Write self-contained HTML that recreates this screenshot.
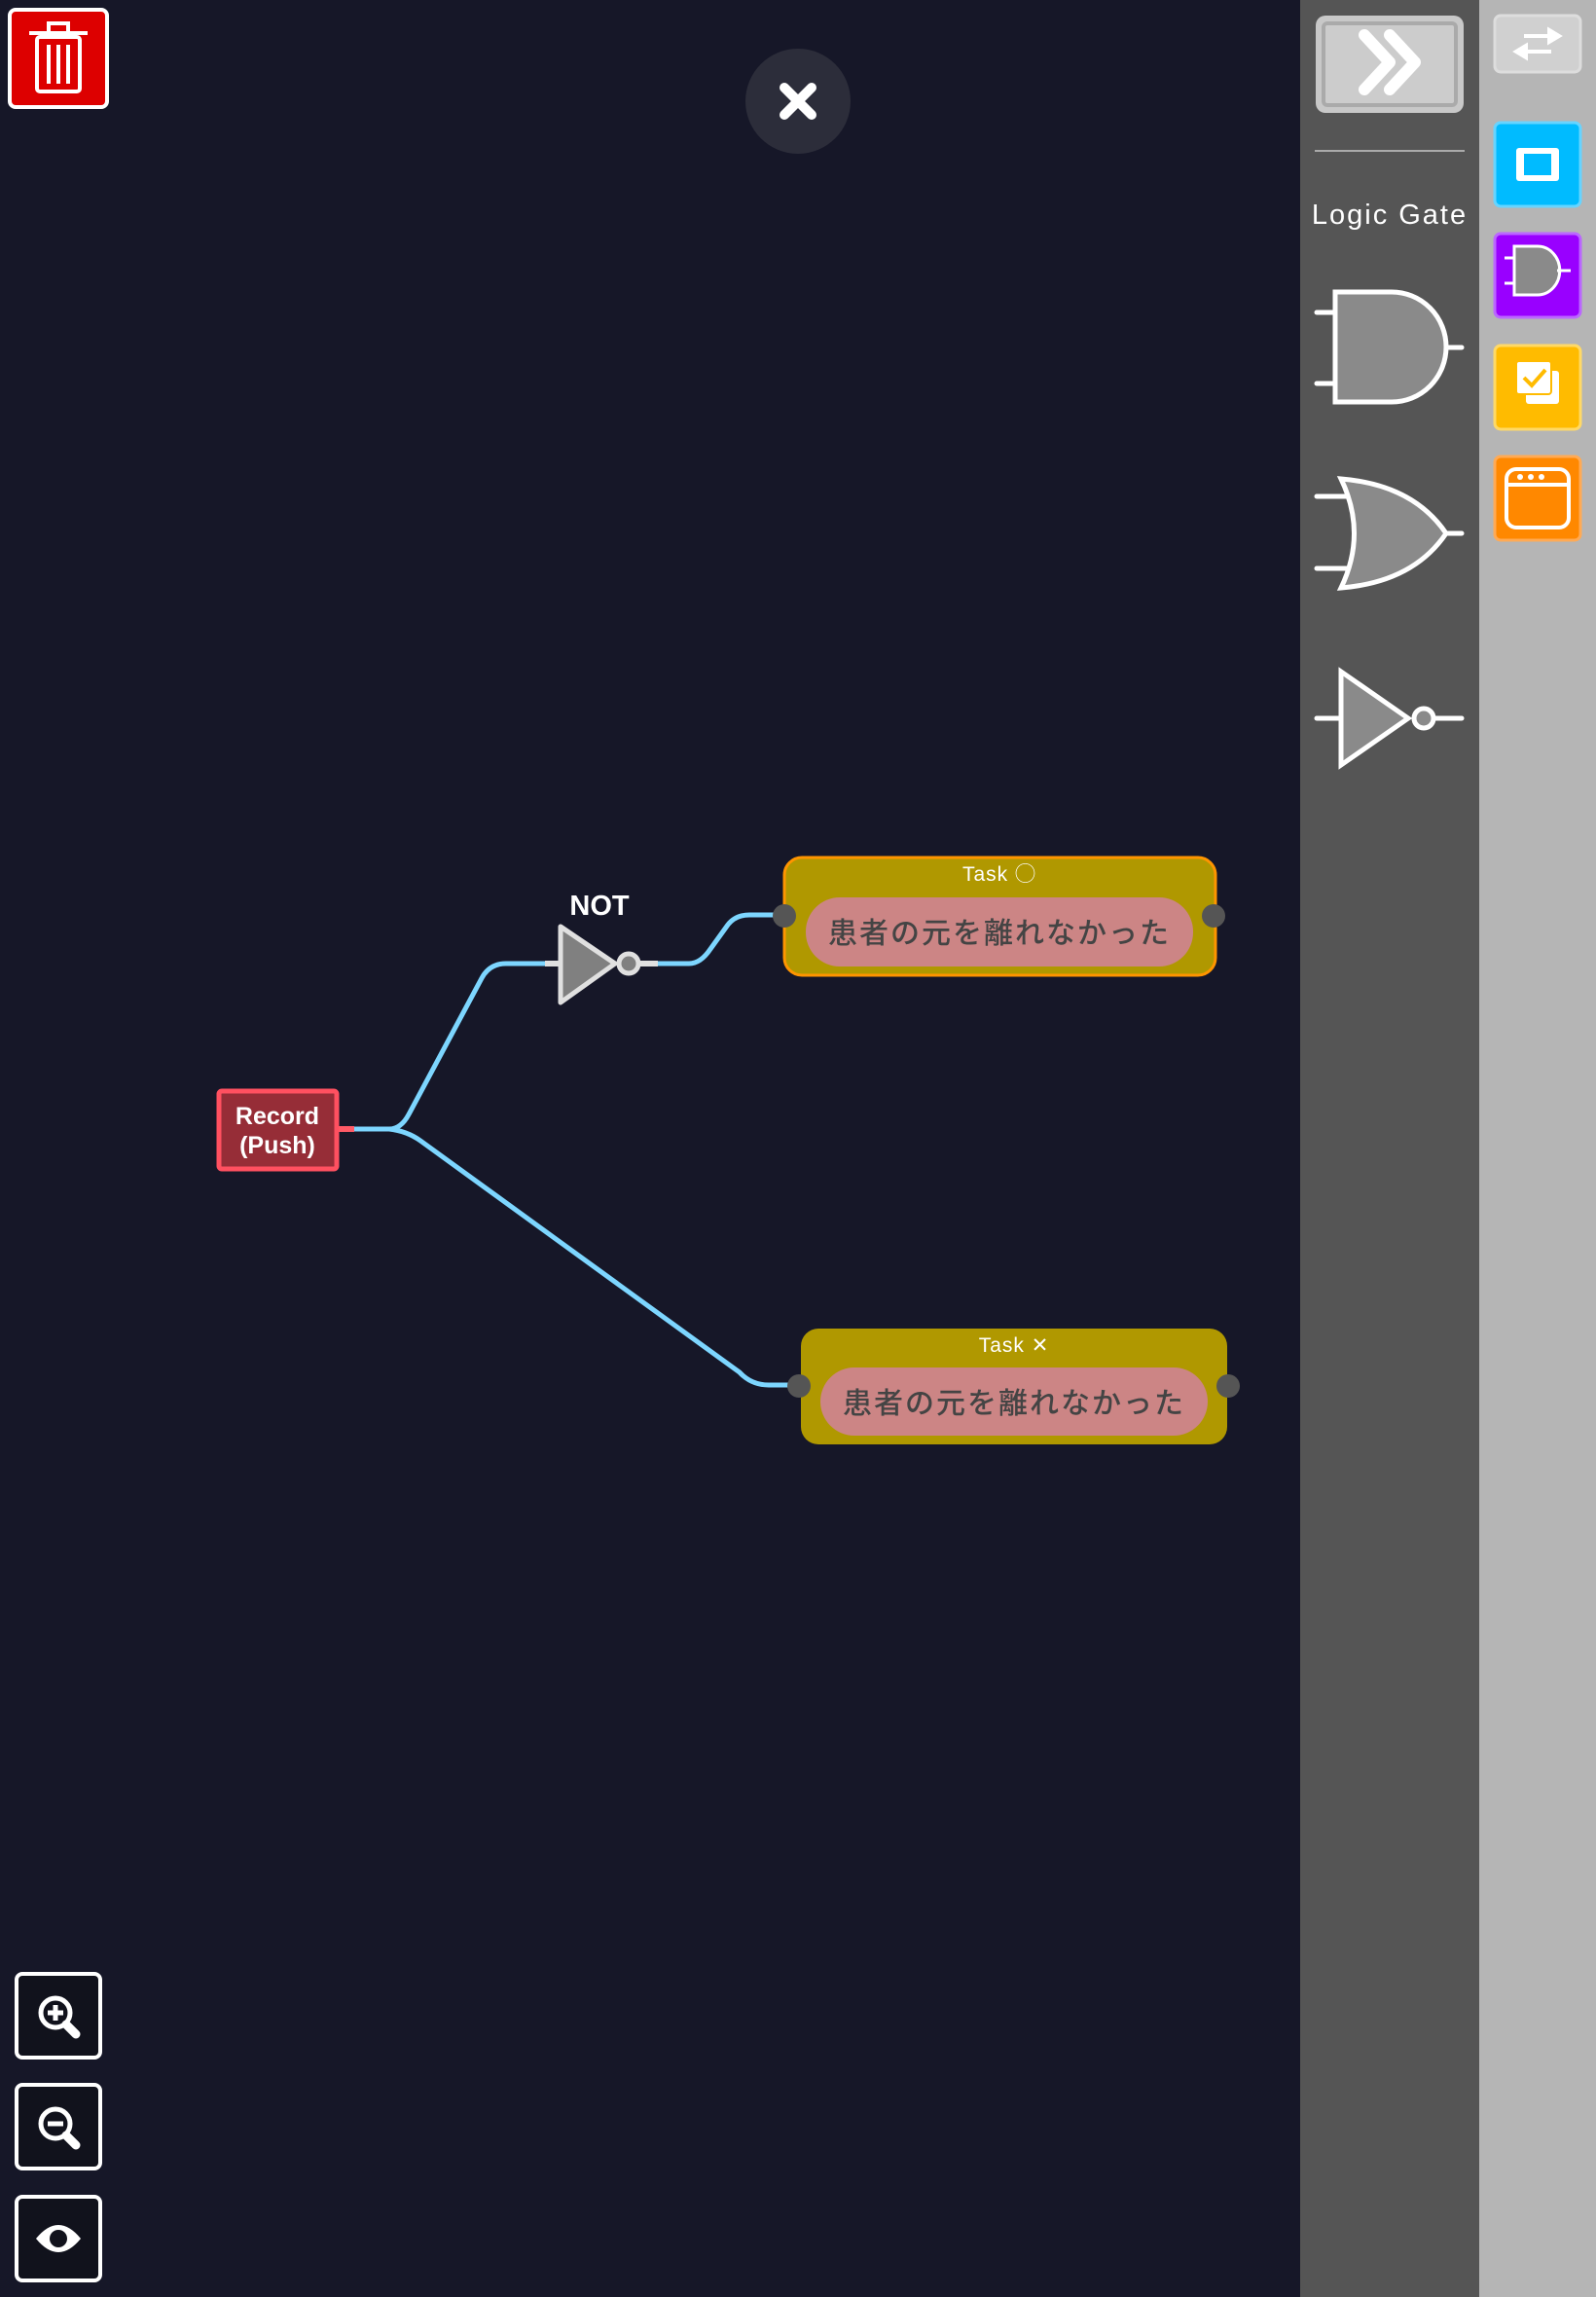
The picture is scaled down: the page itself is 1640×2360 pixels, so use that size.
<!DOCTYPE html>
<html><head><meta charset="utf-8"><style>
html,body{margin:0;padding:0;width:1640px;height:2360px;overflow:hidden;background:#161728;}
svg{display:block}
text{font-family:"Liberation Sans","Noto Sans CJK JP",sans-serif;}
</style></head><body>
<svg width="1640" height="2360" viewBox="0 0 1640 2360" xmlns="http://www.w3.org/2000/svg">
<rect width="1640" height="2360" fill="#161728"/>
<!-- sidebars -->
<rect x="1336" y="0" width="184" height="2360" fill="#555555"/>
<rect x="1520" y="0" width="120" height="2360" fill="#b5b5b5"/>
<!-- trash -->
<rect x="10" y="10" width="100" height="100" rx="6" fill="#dd0000" stroke="#fff" stroke-width="4"/>
<g fill="none" stroke="#fff" stroke-width="4">
<rect x="38" y="38" width="44" height="56" rx="3"/>
<line x1="30" y1="34" x2="90" y2="34"/>
<rect x="50" y="24" width="20" height="10"/>
<line x1="50" y1="46" x2="50" y2="86"/><line x1="60" y1="46" x2="60" y2="86"/><line x1="70" y1="46" x2="70" y2="86"/>
</g>
<!-- close -->
<circle cx="820" cy="104" r="54" fill="#2c2d3a"/>
<g stroke="#fff" stroke-width="10" stroke-linecap="round"><line x1="806" y1="90" x2="834" y2="118"/><line x1="834" y1="90" x2="806" y2="118"/></g>
<!-- fast forward -->
<rect x="1352" y="16" width="152" height="100" rx="10" fill="#c8c8c8"/>
<rect x="1360" y="24" width="136" height="84" rx="4" fill="#cccccc" stroke="#aaa" stroke-width="4"/>
<g fill="none" stroke="#fff" stroke-width="12" stroke-linecap="round" stroke-linejoin="round"><polyline points="1402,36 1428,64 1402,92"/><polyline points="1428,36 1454,64 1428,92"/></g>
<line x1="1351" y1="155" x2="1505" y2="155" stroke="#aaa" stroke-width="2"/>
<text x="1428" y="230" fill="#fff" font-size="29" text-anchor="middle" letter-spacing="2">Logic Gate</text>
<g stroke="#fff" stroke-width="5" stroke-linecap="round">
<!-- AND -->
<path d="M1372,300 H1430 A56,56.5 0 0 1 1430,413 H1372 Z" fill="#8a8a8a"/>
<line x1="1353" y1="321" x2="1372" y2="321"/><line x1="1353" y1="394" x2="1372" y2="394"/><line x1="1486" y1="357" x2="1502" y2="357"/>
<!-- OR -->
<path d="M1378,492 Q1405,548 1378,604 Q1452,598 1486,548 Q1452,498 1378,492 Z" fill="#8a8a8a"/>
<line x1="1353" y1="510" x2="1385" y2="510"/><line x1="1353" y1="584" x2="1385" y2="584"/><line x1="1486" y1="548" x2="1502" y2="548"/>
<!-- NOT -->
<path d="M1378,690 L1447,738 L1378,786 Z" fill="#8a8a8a"/>
<circle cx="1463" cy="738" r="10" fill="#8a8a8a"/>
<line x1="1353" y1="738" x2="1378" y2="738"/><line x1="1473" y1="738" x2="1502" y2="738"/>
</g>
<!-- right buttons -->
<rect x="1536" y="16" width="88" height="58" rx="6" fill="#d0d0d0" stroke="#ddd" stroke-width="3"/>
<g stroke="#fff" stroke-width="4" fill="#fff"><line x1="1566" y1="37" x2="1592" y2="37"/><polygon points="1592,31 1602,37 1592,43"/><line x1="1568" y1="53" x2="1594" y2="53"/><polygon points="1568,47 1558,53 1568,59"/></g>
<rect x="1536" y="126" width="88" height="86" rx="6" fill="#00bbff" stroke="#66d4ff" stroke-width="3"/>
<rect x="1558" y="152" width="44" height="34" rx="3" fill="#fff"/><rect x="1566" y="158" width="28" height="22" fill="#00bbff"/>
<rect x="1536" y="240" width="88" height="86" rx="6" fill="#9900ff" stroke="#bb66ff" stroke-width="3"/>
<path d="M1556,253 H1580 A20,22 0 0 1 1580,303 H1556 Z" fill="#8a8a8a" stroke="#fff" stroke-width="3"/>
<g stroke="#fff" stroke-width="3"><line x1="1546" y1="265" x2="1556" y2="265"/><line x1="1546" y1="291" x2="1556" y2="291"/><line x1="1600" y1="278" x2="1614" y2="278"/></g>
<rect x="1536" y="355" width="88" height="86" rx="6" fill="#ffbb00" stroke="#ffd966" stroke-width="3"/>
<rect x="1568" y="381" width="34" height="34" rx="3" fill="#fff"/><rect x="1558" y="371" width="36" height="34" rx="3" fill="#fff" stroke="#ffbb00" stroke-width="2"/>
<polyline points="1566,388 1574,396 1588,380" fill="none" stroke="#ffbb00" stroke-width="4"/>
<rect x="1536" y="469" width="88" height="86" rx="6" fill="#ff8800" stroke="#ffaa55" stroke-width="3"/>
<rect x="1548" y="482" width="64" height="60" rx="10" fill="none" stroke="#fff" stroke-width="4"/>
<line x1="1548" y1="498" x2="1612" y2="498" stroke="#fff" stroke-width="4"/>
<circle cx="1562" cy="490" r="3" fill="#fff"/><circle cx="1573" cy="490" r="3" fill="#fff"/><circle cx="1584" cy="490" r="3" fill="#fff"/>
<!-- wires -->
<g fill="none" stroke="#7dd6ff" stroke-width="5">
<path d="M350,1160 H400 Q412,1160 420,1145 L495,1005 Q503,990 520,990 H573"/>
<path d="M662,990 H708 Q720,990 730,975 L748,950 Q756,940 770,940 H806"/>
<path d="M400,1160 Q418,1162 432,1172 L760,1410 Q772,1423 790,1423 H821"/>
</g>
<line x1="348" y1="1160" x2="364" y2="1160" stroke="#ff5a66" stroke-width="6"/>
<!-- record -->
<rect x="225" y="1121" width="121" height="80" rx="3" fill="#962d37" stroke="#ff5060" stroke-width="5"/>
<text x="285" y="1155" fill="#fff" font-size="25" font-weight="bold" text-anchor="middle">Record</text>
<text x="285" y="1185" fill="#fff" font-size="25" font-weight="bold" text-anchor="middle">(Push)</text>
<!-- NOT gate -->
<text x="616" y="940" fill="#fff" font-size="29" font-weight="bold" text-anchor="middle">NOT</text>
<path d="M576,952 L632,990 L576,1030 Z" fill="#808080" stroke="#e0e0e0" stroke-width="5" stroke-linejoin="round"/>
<circle cx="646" cy="990" r="10" fill="#808080" stroke="#e0e0e0" stroke-width="5"/>
<line x1="560" y1="990" x2="576" y2="990" stroke="#e0e0e0" stroke-width="6"/>
<line x1="656" y1="990" x2="676" y2="990" stroke="#e0e0e0" stroke-width="6"/>
<!-- task 1 -->
<rect x="806" y="881" width="443" height="121" rx="18" fill="#b09800" stroke="#ff9500" stroke-width="3"/>
<text x="1027" y="905" fill="#fff" font-size="21" text-anchor="middle" letter-spacing="1">Task ◯</text>
<rect x="828" y="922" width="398" height="71" rx="35" fill="#cc8585"/>
<text x="1027" y="969" fill="#444" font-size="30" font-weight="500" text-anchor="middle" letter-spacing="2">患者の元を離れなかった</text>
<circle cx="806" cy="941" r="12" fill="#555"/><circle cx="1247" cy="941" r="12" fill="#555"/>
<!-- task 2 -->
<rect x="823" y="1365" width="438" height="119" rx="18" fill="#b09800"/>
<text x="1042" y="1389" fill="#fff" font-size="21" text-anchor="middle" letter-spacing="1">Task ✕</text>
<rect x="843" y="1405" width="398" height="70" rx="35" fill="#cc8585"/>
<text x="1042" y="1452" fill="#444" font-size="30" font-weight="500" text-anchor="middle" letter-spacing="2">患者の元を離れなかった</text>
<circle cx="821" cy="1424" r="12" fill="#555"/><circle cx="1262" cy="1424" r="12" fill="#555"/>
<!-- zoom buttons -->
<g fill="#11121c" stroke="#fff" stroke-width="4">
<rect x="17" y="2028" width="86" height="86" rx="6"/>
<rect x="17" y="2142" width="86" height="86" rx="6"/>
<rect x="17" y="2257" width="86" height="86" rx="6"/>
</g>
<g stroke="#fff" fill="none">
<circle cx="57" cy="2068" r="15" stroke-width="5"/><line x1="68" y1="2080" x2="78" y2="2090" stroke-width="9" stroke-linecap="round"/>
<line x1="49" y1="2068" x2="65" y2="2068" stroke-width="5"/><line x1="57" y1="2060" x2="57" y2="2076" stroke-width="5"/>
<circle cx="57" cy="2182" r="15" stroke-width="5"/><line x1="68" y1="2194" x2="78" y2="2204" stroke-width="9" stroke-linecap="round"/>
<line x1="49" y1="2182" x2="65" y2="2182" stroke-width="5"/>
</g>
<path d="M37,2300 Q60,2272 83,2300 Q60,2328 37,2300 Z" fill="#fff"/>
<circle cx="60" cy="2300" r="9" fill="#11121c"/>
</svg>
</body></html>
